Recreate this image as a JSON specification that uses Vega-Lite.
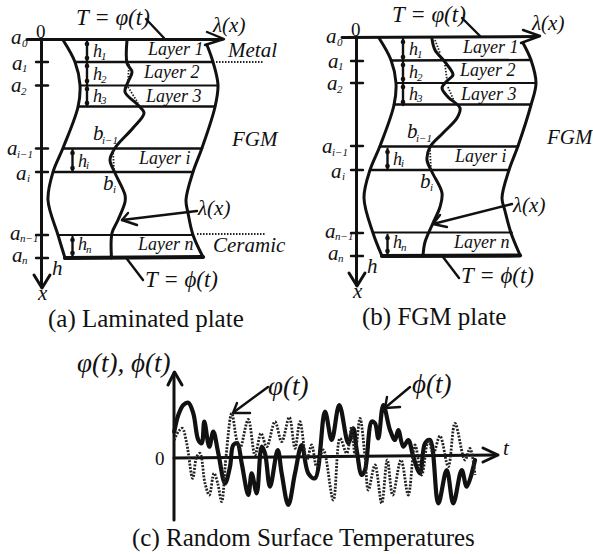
{"$schema":"https://vega.github.io/schema/vega-lite/v6.json","width":593,"height":554,"padding":0,"autosize":{"type":"none"},"background":"#ffffff","view":{"stroke":null},
"datasets":{
"straight":[
{"id":"a-axis","w":"bold","i":0,"x":41.5,"y":39},{"id":"a-axis","w":"bold","i":1,"x":41.5,"y":287},
{"id":"a-axh","w":"bold","i":0,"x":34,"y":275},{"id":"a-axh","w":"bold","i":1,"x":42,"y":288},{"id":"a-axh","w":"bold","i":2,"x":50,"y":275},
{"id":"a-top","w":"bold","i":0,"x":27,"y":39.5},{"id":"a-top","w":"bold","i":1,"x":222,"y":39.5},
{"id":"a-toph","w":"mid","i":0,"x":207,"y":32},{"id":"a-toph","w":"mid","i":1,"x":224,"y":39},{"id":"a-toph","w":"mid","i":2,"x":205,"y":45},
{"id":"a-t1","w":"mid","i":0,"x":36,"y":62},{"id":"a-t1","w":"mid","i":1,"x":48,"y":62},
{"id":"a-t2","w":"mid","i":0,"x":36,"y":85.5},{"id":"a-t2","w":"mid","i":1,"x":48,"y":85.5},
{"id":"a-t3","w":"mid","i":0,"x":36,"y":148.5},{"id":"a-t3","w":"mid","i":1,"x":48,"y":148.5},
{"id":"a-t4","w":"mid","i":0,"x":36,"y":172},{"id":"a-t4","w":"mid","i":1,"x":48,"y":172},
{"id":"a-t5","w":"mid","i":0,"x":36,"y":235},{"id":"a-t5","w":"mid","i":1,"x":48,"y":235},
{"id":"a-t6","w":"mid","i":0,"x":36,"y":258},{"id":"a-t6","w":"mid","i":1,"x":48,"y":258},
{"id":"a-l1","w":"mid","i":0,"x":75,"y":62},{"id":"a-l1","w":"mid","i":1,"x":213,"y":62},
{"id":"a-l2","w":"thin","i":0,"x":80,"y":85.5},{"id":"a-l2","w":"thin","i":1,"x":218,"y":85.5},
{"id":"a-l3","w":"mid","i":0,"x":78,"y":106.5},{"id":"a-l3","w":"mid","i":1,"x":215,"y":106.5},
{"id":"a-l4","w":"mid","i":0,"x":63,"y":148.5},{"id":"a-l4","w":"mid","i":1,"x":202,"y":148.5},
{"id":"a-l5","w":"mid","i":0,"x":53,"y":172},{"id":"a-l5","w":"mid","i":1,"x":193,"y":172},
{"id":"a-l6","w":"thin","i":0,"x":58,"y":235},{"id":"a-l6","w":"thin","i":1,"x":193,"y":235},
{"id":"a-l7","w":"heavy","i":0,"x":65,"y":258},{"id":"a-l7","w":"heavy","i":1,"x":203,"y":257},
{"id":"a-h","w":"mid","i":0,"x":87,"y":41},{"id":"a-h","w":"mid","i":1,"x":87,"y":106},
{"id":"a-hi","w":"mid","i":0,"x":72.5,"y":150},{"id":"a-hi","w":"mid","i":1,"x":72.5,"y":171},
{"id":"a-hn","w":"mid","i":0,"x":72.5,"y":237},{"id":"a-hn","w":"mid","i":1,"x":72.5,"y":256},
{"id":"a-le1","w":"mid","i":0,"x":146,"y":19},{"id":"a-le1","w":"mid","i":1,"x":164,"y":38},
{"id":"a-le2","w":"mid","i":0,"x":127,"y":259},{"id":"a-le2","w":"mid","i":1,"x":143,"y":280},
{"id":"a-ar","w":"mid","i":0,"x":197,"y":211},{"id":"a-ar","w":"mid","i":1,"x":122,"y":220},
{"id":"a-arh","w":"mid","i":0,"x":128,"y":213},{"id":"a-arh","w":"mid","i":1,"x":122,"y":220},{"id":"a-arh","w":"mid","i":2,"x":137,"y":225},

{"id":"b-axis","w":"bold","i":0,"x":356.5,"y":37},{"id":"b-axis","w":"bold","i":1,"x":356.5,"y":285},
{"id":"b-axh","w":"bold","i":0,"x":349,"y":273},{"id":"b-axh","w":"bold","i":1,"x":357,"y":286},{"id":"b-axh","w":"bold","i":2,"x":365,"y":273},
{"id":"b-top","w":"bold","i":0,"x":342,"y":37.5},{"id":"b-top","w":"bold","i":1,"x":538,"y":36.5},
{"id":"b-toph","w":"mid","i":0,"x":523,"y":30},{"id":"b-toph","w":"mid","i":1,"x":540,"y":36},{"id":"b-toph","w":"mid","i":2,"x":521,"y":43},
{"id":"b-t1","w":"mid","i":0,"x":351,"y":61},{"id":"b-t1","w":"mid","i":1,"x":363,"y":61},
{"id":"b-t2","w":"mid","i":0,"x":351,"y":83},{"id":"b-t2","w":"mid","i":1,"x":363,"y":83},
{"id":"b-t3","w":"mid","i":0,"x":351,"y":146},{"id":"b-t3","w":"mid","i":1,"x":363,"y":146},
{"id":"b-t4","w":"mid","i":0,"x":351,"y":170},{"id":"b-t4","w":"mid","i":1,"x":363,"y":170},
{"id":"b-t5","w":"mid","i":0,"x":351,"y":233},{"id":"b-t5","w":"mid","i":1,"x":363,"y":233},
{"id":"b-t6","w":"mid","i":0,"x":351,"y":256},{"id":"b-t6","w":"mid","i":1,"x":363,"y":256},
{"id":"b-l1","w":"mid","i":0,"x":391,"y":60.5},{"id":"b-l1","w":"mid","i":1,"x":531,"y":60},
{"id":"b-l2","w":"thin","i":0,"x":396,"y":83},{"id":"b-l2","w":"thin","i":1,"x":535,"y":83},
{"id":"b-l3","w":"mid","i":0,"x":394,"y":104.5},{"id":"b-l3","w":"mid","i":1,"x":531,"y":104.5},
{"id":"b-l4","w":"mid","i":0,"x":380,"y":146.5},{"id":"b-l4","w":"mid","i":1,"x":518,"y":146.5},
{"id":"b-l5","w":"mid","i":0,"x":370,"y":170},{"id":"b-l5","w":"mid","i":1,"x":509,"y":170},
{"id":"b-l6","w":"thin","i":0,"x":374,"y":232.5},{"id":"b-l6","w":"thin","i":1,"x":512,"y":232.5},
{"id":"b-l7","w":"heavy","i":0,"x":382,"y":256},{"id":"b-l7","w":"heavy","i":1,"x":520,"y":255.5},
{"id":"b-h","w":"mid","i":0,"x":403,"y":39},{"id":"b-h","w":"mid","i":1,"x":403,"y":105},
{"id":"b-hi","w":"mid","i":0,"x":387.5,"y":149},{"id":"b-hi","w":"mid","i":1,"x":387.5,"y":169},
{"id":"b-hn","w":"mid","i":0,"x":387.5,"y":235},{"id":"b-hn","w":"mid","i":1,"x":387.5,"y":254},
{"id":"b-le1","w":"mid","i":0,"x":462,"y":18},{"id":"b-le1","w":"mid","i":1,"x":480,"y":36},
{"id":"b-le2","w":"mid","i":0,"x":443,"y":257},{"id":"b-le2","w":"mid","i":1,"x":459,"y":278},
{"id":"b-ar","w":"mid","i":0,"x":512,"y":204},{"id":"b-ar","w":"mid","i":1,"x":433,"y":224},
{"id":"b-arh","w":"mid","i":0,"x":440,"y":215},{"id":"b-arh","w":"mid","i":1,"x":433,"y":224},{"id":"b-arh","w":"mid","i":2,"x":447,"y":227},

{"id":"c-v","w":"bold","i":0,"x":174,"y":520},{"id":"c-v","w":"bold","i":1,"x":174,"y":373},
{"id":"c-vh","w":"bold","i":0,"x":168,"y":385},{"id":"c-vh","w":"bold","i":1,"x":174.5,"y":372},{"id":"c-vh","w":"bold","i":2,"x":182,"y":385},
{"id":"c-h","w":"bold","i":0,"x":174,"y":458},{"id":"c-h","w":"bold","i":1,"x":497,"y":455},
{"id":"c-hh","w":"bold","i":0,"x":483,"y":448},{"id":"c-hh","w":"bold","i":1,"x":498,"y":455},{"id":"c-hh","w":"bold","i":2,"x":483,"y":462},
{"id":"c-a1","w":"mid","i":0,"x":268,"y":387},{"id":"c-a1","w":"mid","i":1,"x":234,"y":412},
{"id":"c-a1h","w":"mid","i":0,"x":237,"y":403},{"id":"c-a1h","w":"mid","i":1,"x":233,"y":413},{"id":"c-a1h","w":"mid","i":2,"x":250,"y":413},
{"id":"c-a2","w":"mid","i":0,"x":410,"y":387},{"id":"c-a2","w":"mid","i":1,"x":386,"y":407},
{"id":"c-a2h","w":"mid","i":0,"x":387,"y":397},{"id":"c-a2h","w":"mid","i":1,"x":385,"y":408},{"id":"c-a2h","w":"mid","i":2,"x":400,"y":407}
],
"curved":[
{"id":"a-left","w":"bold","i":0,"x":63,"y":40},{"id":"a-left","w":"bold","i":1,"x":75,"y":62},{"id":"a-left","w":"bold","i":2,"x":80,"y":85},{"id":"a-left","w":"bold","i":3,"x":78,"y":107},{"id":"a-left","w":"bold","i":4,"x":63,"y":148},{"id":"a-left","w":"bold","i":5,"x":53,"y":172},{"id":"a-left","w":"bold","i":6,"x":48,"y":200},{"id":"a-left","w":"bold","i":7,"x":58,"y":235},{"id":"a-left","w":"bold","i":8,"x":65,"y":258},
{"id":"a-right","w":"bold","i":0,"x":207,"y":45},{"id":"a-right","w":"bold","i":1,"x":213,"y":62},{"id":"a-right","w":"bold","i":2,"x":218,"y":85},{"id":"a-right","w":"bold","i":3,"x":215,"y":107},{"id":"a-right","w":"bold","i":4,"x":202,"y":148},{"id":"a-right","w":"bold","i":5,"x":193,"y":172},{"id":"a-right","w":"bold","i":6,"x":186,"y":200},{"id":"a-right","w":"bold","i":7,"x":188,"y":213},{"id":"a-right","w":"bold","i":8,"x":193,"y":235},{"id":"a-right","w":"bold","i":9,"x":203,"y":257},
{"id":"a-mid","w":"bold","i":0,"x":127,"y":40},{"id":"a-mid","w":"bold","i":1,"x":127,"y":63},{"id":"a-mid","w":"bold","i":2,"x":132,"y":72},{"id":"a-mid","w":"bold","i":3,"x":128,"y":82},{"id":"a-mid","w":"bold","i":4,"x":125,"y":92},{"id":"a-mid","w":"bold","i":5,"x":138,"y":105},{"id":"a-mid","w":"bold","i":6,"x":144,"y":113},{"id":"a-mid","w":"bold","i":7,"x":133,"y":128},{"id":"a-mid","w":"bold","i":8,"x":115,"y":148},{"id":"a-mid","w":"bold","i":9,"x":110,"y":160},{"id":"a-mid","w":"bold","i":10,"x":115,"y":173},{"id":"a-mid","w":"bold","i":11,"x":125,"y":195},{"id":"a-mid","w":"bold","i":12,"x":125,"y":202},{"id":"a-mid","w":"bold","i":13,"x":118,"y":220},{"id":"a-mid","w":"bold","i":14,"x":112,"y":233},{"id":"a-mid","w":"bold","i":15,"x":111.5,"y":258},
{"id":"b-left","w":"bold","i":0,"x":379,"y":38},{"id":"b-left","w":"bold","i":1,"x":391,"y":60},{"id":"b-left","w":"bold","i":2,"x":396,"y":83},{"id":"b-left","w":"bold","i":3,"x":394,"y":105},{"id":"b-left","w":"bold","i":4,"x":380,"y":146},{"id":"b-left","w":"bold","i":5,"x":370,"y":170},{"id":"b-left","w":"bold","i":6,"x":364,"y":198},{"id":"b-left","w":"bold","i":7,"x":373,"y":233},{"id":"b-left","w":"bold","i":8,"x":382,"y":256},
{"id":"b-right","w":"bold","i":0,"x":523,"y":43},{"id":"b-right","w":"bold","i":1,"x":531,"y":60},{"id":"b-right","w":"bold","i":2,"x":536,"y":83},{"id":"b-right","w":"bold","i":3,"x":531,"y":105},{"id":"b-right","w":"bold","i":4,"x":518,"y":146},{"id":"b-right","w":"bold","i":5,"x":509,"y":170},{"id":"b-right","w":"bold","i":6,"x":502,"y":198},{"id":"b-right","w":"bold","i":7,"x":505,"y":211},{"id":"b-right","w":"bold","i":8,"x":511,"y":233},{"id":"b-right","w":"bold","i":9,"x":520,"y":255},
{"id":"b-mid","w":"bold","i":0,"x":432,"y":39},{"id":"b-mid","w":"bold","i":1,"x":435,"y":50},{"id":"b-mid","w":"bold","i":2,"x":445,"y":62},{"id":"b-mid","w":"bold","i":3,"x":453,"y":75},{"id":"b-mid","w":"bold","i":4,"x":448,"y":80},{"id":"b-mid","w":"bold","i":5,"x":442,"y":88},{"id":"b-mid","w":"bold","i":6,"x":448,"y":97},{"id":"b-mid","w":"bold","i":7,"x":460,"y":108},{"id":"b-mid","w":"bold","i":8,"x":457,"y":118},{"id":"b-mid","w":"bold","i":9,"x":443,"y":133},{"id":"b-mid","w":"bold","i":10,"x":430,"y":147},{"id":"b-mid","w":"bold","i":11,"x":427,"y":160},{"id":"b-mid","w":"bold","i":12,"x":432,"y":172},{"id":"b-mid","w":"bold","i":13,"x":442,"y":193},{"id":"b-mid","w":"bold","i":14,"x":440,"y":207},{"id":"b-mid","w":"bold","i":15,"x":433,"y":223},{"id":"b-mid","w":"bold","i":16,"x":425,"y":242},{"id":"b-mid","w":"bold","i":17,"x":423,"y":256},
{"id":"solid","w":"heavy","i":0,"x":174.3,"y":431.7},{"id":"solid","w":"heavy","i":1,"x":178.3,"y":415},{"id":"solid","w":"heavy","i":2,"x":183.3,"y":405},{"id":"solid","w":"heavy","i":3,"x":188.3,"y":402.7},{"id":"solid","w":"heavy","i":4,"x":193.3,"y":413.3},{"id":"solid","w":"heavy","i":5,"x":198.3,"y":440},{"id":"solid","w":"heavy","i":6,"x":201.7,"y":443.3},{"id":"solid","w":"heavy","i":7,"x":204.3,"y":421.7},{"id":"solid","w":"heavy","i":8,"x":209.3,"y":446.7},{"id":"solid","w":"heavy","i":9,"x":213.3,"y":431.7},{"id":"solid","w":"heavy","i":10,"x":218.3,"y":453.3},{"id":"solid","w":"heavy","i":11,"x":225,"y":483.3},{"id":"solid","w":"heavy","i":12,"x":230,"y":466.7},{"id":"solid","w":"heavy","i":13,"x":233.3,"y":445},{"id":"solid","w":"heavy","i":14,"x":237.3,"y":443.3},{"id":"solid","w":"heavy","i":15,"x":241.7,"y":463.3},{"id":"solid","w":"heavy","i":16,"x":248.3,"y":495},{"id":"solid","w":"heavy","i":17,"x":251.7,"y":473.3},{"id":"solid","w":"heavy","i":18,"x":256.7,"y":493.3},{"id":"solid","w":"heavy","i":19,"x":261.7,"y":446.7},{"id":"solid","w":"heavy","i":20,"x":265,"y":453.3},{"id":"solid","w":"heavy","i":21,"x":270,"y":486.7},{"id":"solid","w":"heavy","i":22,"x":277.7,"y":450},{"id":"solid","w":"heavy","i":23,"x":281.7,"y":473.3},{"id":"solid","w":"heavy","i":24,"x":288.3,"y":505},{"id":"solid","w":"heavy","i":25,"x":295,"y":473.3},{"id":"solid","w":"heavy","i":26,"x":301.7,"y":445},{"id":"solid","w":"heavy","i":27,"x":308.3,"y":473.3},{"id":"solid","w":"heavy","i":28,"x":315,"y":478.3},{"id":"solid","w":"heavy","i":29,"x":325,"y":411.7},{"id":"solid","w":"heavy","i":30,"x":331.7,"y":440},{"id":"solid","w":"heavy","i":31,"x":339.3,"y":405},{"id":"solid","w":"heavy","i":32,"x":348.3,"y":443.3},{"id":"solid","w":"heavy","i":33,"x":353.3,"y":428.3},{"id":"solid","w":"heavy","i":34,"x":356.7,"y":450},{"id":"solid","w":"heavy","i":35,"x":361.7,"y":475},{"id":"solid","w":"heavy","i":36,"x":365,"y":470},{"id":"solid","w":"heavy","i":37,"x":371.7,"y":421.7},{"id":"solid","w":"heavy","i":38,"x":375,"y":423.3},{"id":"solid","w":"heavy","i":39,"x":378.3,"y":438.3},{"id":"solid","w":"heavy","i":40,"x":383.3,"y":405},{"id":"solid","w":"heavy","i":41,"x":390,"y":430},{"id":"solid","w":"heavy","i":42,"x":395,"y":440},{"id":"solid","w":"heavy","i":43,"x":398.3,"y":430},{"id":"solid","w":"heavy","i":44,"x":403.3,"y":446.7},{"id":"solid","w":"heavy","i":45,"x":408.3,"y":440},{"id":"solid","w":"heavy","i":46,"x":413.3,"y":456.7},{"id":"solid","w":"heavy","i":47,"x":420,"y":473.3},{"id":"solid","w":"heavy","i":48,"x":425,"y":443.3},{"id":"solid","w":"heavy","i":49,"x":430,"y":440},{"id":"solid","w":"heavy","i":50,"x":438.3,"y":503.3},{"id":"solid","w":"heavy","i":51,"x":446.7,"y":470},{"id":"solid","w":"heavy","i":52,"x":453.3,"y":503.3},{"id":"solid","w":"heavy","i":53,"x":461.7,"y":470},{"id":"solid","w":"heavy","i":54,"x":466.7,"y":486.7},{"id":"solid","w":"heavy","i":55,"x":475,"y":460}
],
"dotted":[
{"id":"a-d1","i":0,"x":216,"y":62},{"id":"a-d1","i":1,"x":263,"y":62},
{"id":"a-d2","i":0,"x":197,"y":234},{"id":"a-d2","i":1,"x":266,"y":234},
{"id":"a-d3","i":0,"x":129,"y":64},{"id":"a-d3","i":1,"x":128,"y":82},
{"id":"a-d4","i":0,"x":128,"y":87},{"id":"a-d4","i":1,"x":138,"y":103},
{"id":"a-d5","i":0,"x":113,"y":150},{"id":"a-d5","i":1,"x":114,"y":171},
{"id":"b-d1","i":0,"x":435,"y":40},{"id":"b-d1","i":1,"x":440,"y":53},
{"id":"b-d2","i":0,"x":445,"y":65},{"id":"b-d2","i":1,"x":447,"y":80},
{"id":"b-d3","i":0,"x":448,"y":87},{"id":"b-d3","i":1,"x":455,"y":103},
{"id":"b-d4","i":0,"x":430,"y":150},{"id":"b-d4","i":1,"x":431,"y":170}
],
"wave":[
{"i":0,"x":174.3,"y":440},{"i":1,"x":178.3,"y":431.7},{"i":2,"x":182.3,"y":428.3},{"i":3,"x":186.7,"y":443.3},{"i":4,"x":192.7,"y":478.3},{"i":5,"x":196.7,"y":456.7},{"i":6,"x":200,"y":453.3},{"i":7,"x":205,"y":483.3},{"i":8,"x":209.3,"y":495},{"i":9,"x":214,"y":473.3},{"i":10,"x":217.7,"y":483.3},{"i":11,"x":221.7,"y":501.7},{"i":12,"x":226,"y":456.7},{"i":13,"x":231.7,"y":413.3},{"i":14,"x":236.7,"y":440},{"i":15,"x":240,"y":448.3},{"i":16,"x":248.3,"y":419.3},{"i":17,"x":255,"y":455},{"i":18,"x":261,"y":433.3},{"i":19,"x":266.7,"y":446.7},{"i":20,"x":275,"y":421.7},{"i":21,"x":281.7,"y":441.7},{"i":22,"x":289.3,"y":417.3},{"i":23,"x":295,"y":448.3},{"i":24,"x":300,"y":421.7},{"i":25,"x":306.7,"y":460},{"i":26,"x":311.7,"y":445},{"i":27,"x":316.7,"y":466.7},{"i":28,"x":323.3,"y":450},{"i":29,"x":333.3,"y":500},{"i":30,"x":340,"y":438.3},{"i":31,"x":346.7,"y":453.3},{"i":32,"x":351.7,"y":426.7},{"i":33,"x":355,"y":455},{"i":34,"x":360,"y":418.3},{"i":35,"x":365,"y":456.7},{"i":36,"x":368.3,"y":490},{"i":37,"x":375,"y":465},{"i":38,"x":381.7,"y":503.3},{"i":39,"x":387.3,"y":460},{"i":40,"x":392.7,"y":495},{"i":41,"x":401,"y":460},{"i":42,"x":408.3,"y":495},{"i":43,"x":415,"y":445},{"i":44,"x":421.7,"y":475},{"i":45,"x":428.3,"y":440},{"i":46,"x":433.3,"y":453.3},{"i":47,"x":440,"y":436},{"i":48,"x":448.3,"y":466.7},{"i":49,"x":455,"y":423.3},{"i":50,"x":465,"y":460},{"i":51,"x":470,"y":448.3},{"i":52,"x":475,"y":475}
],
"dots":[
{"x":87,"y":44},{"x":87,"y":58},{"x":87,"y":66},{"x":87,"y":81},{"x":87,"y":89},{"x":87,"y":103},{"x":72.5,"y":153},{"x":72.5,"y":168},{"x":72.5,"y":240},{"x":72.5,"y":253},
{"x":403,"y":42},{"x":403,"y":57},{"x":403,"y":65},{"x":403,"y":79},{"x":403,"y":87},{"x":403,"y":102},{"x":387.5,"y":152},{"x":387.5,"y":166},{"x":387.5,"y":238},{"x":387.5,"y":251}
],
"labels":[
{"t":"T = φ(t)","s":"big","x":76,"y":25},{"t":"λ(x)","s":"mat","x":213,"y":32},{"t":"Metal","s":"mat","x":228,"y":57},{"t":"FGM","s":"mat","x":232,"y":146},{"t":"Layer 1","s":"mid","x":148,"y":55},{"t":"Layer 2","s":"mid","x":144,"y":78},{"t":"Layer 3","s":"mid","x":146,"y":102},{"t":"Layer i","s":"mid","x":139,"y":164},{"t":"Layer n","s":"mid","x":138,"y":250},{"t":"λ(x)","s":"mat","x":198,"y":215},{"t":"Ceramic","s":"mat","x":213,"y":252},{"t":"T = ϕ(t)","s":"big","x":145,"y":287},
{"t":"a","s":"mat","x":11,"y":44},{"t":"0","s":"sub","x":22,"y":47},{"t":"a","s":"mat","x":12,"y":70},{"t":"1","s":"sub","x":22,"y":72},{"t":"a","s":"mat","x":11,"y":92},{"t":"2","s":"sub","x":21,"y":95},{"t":"a","s":"mat","x":7,"y":155},{"t":"i−1","s":"sub","x":17,"y":158},{"t":"a","s":"mat","x":16,"y":180},{"t":"i","s":"sub","x":27,"y":182},{"t":"a","s":"mat","x":10,"y":240},{"t":"n−1","s":"sub","x":20,"y":242},{"t":"a","s":"mat","x":12,"y":262},{"t":"n","s":"sub","x":22,"y":264},
{"t":"h","s":"mid","x":93,"y":57},{"t":"1","s":"sub","x":101,"y":60},{"t":"h","s":"mid","x":93,"y":80},{"t":"2","s":"sub","x":101,"y":83},{"t":"h","s":"mid","x":93,"y":102},{"t":"3","s":"sub","x":101,"y":104},{"t":"h","s":"mid","x":78,"y":167},{"t":"i","s":"sub","x":86,"y":169},{"t":"h","s":"mid","x":78,"y":250},{"t":"n","s":"sub","x":86,"y":253},{"t":"h","s":"mat","x":52,"y":275},{"t":"x","s":"mat","x":38,"y":300},{"t":"b","s":"mat","x":93,"y":140},{"t":"i−1","s":"sub","x":102,"y":144},{"t":"b","s":"mat","x":103,"y":190},{"t":"i","s":"sub","x":113,"y":193},
{"t":"T = φ(t)","s":"big","x":392,"y":22},{"t":"λ(x)","s":"mat","x":532,"y":30},{"t":"FGM","s":"mat","x":547,"y":144},{"t":"Layer 1","s":"mid","x":463,"y":53},{"t":"Layer 2","s":"mid","x":460,"y":76},{"t":"Layer 3","s":"mid","x":461,"y":100},{"t":"Layer i","s":"mid","x":455,"y":162},{"t":"Layer n","s":"mid","x":454,"y":248},{"t":"λ(x)","s":"mat","x":513,"y":212},{"t":"T = ϕ(t)","s":"big","x":461,"y":283},
{"t":"a","s":"mat","x":326,"y":43},{"t":"0","s":"sub","x":337,"y":46},{"t":"a","s":"mat","x":328,"y":68},{"t":"1","s":"sub","x":338,"y":70},{"t":"a","s":"mat","x":327,"y":90},{"t":"2","s":"sub","x":337,"y":93},{"t":"a","s":"mat","x":322,"y":153},{"t":"i−1","s":"sub","x":332,"y":156},{"t":"a","s":"mat","x":331,"y":178},{"t":"i","s":"sub","x":342,"y":180},{"t":"a","s":"mat","x":325,"y":238},{"t":"n−1","s":"sub","x":335,"y":240},{"t":"a","s":"mat","x":328,"y":260},{"t":"n","s":"sub","x":338,"y":262},
{"t":"h","s":"mid","x":409,"y":55},{"t":"1","s":"sub","x":417,"y":58},{"t":"h","s":"mid","x":409,"y":78},{"t":"2","s":"sub","x":417,"y":81},{"t":"h","s":"mid","x":409,"y":100},{"t":"3","s":"sub","x":417,"y":102},{"t":"h","s":"mid","x":393,"y":165},{"t":"i","s":"sub","x":401,"y":167},{"t":"h","s":"mid","x":393,"y":248},{"t":"n","s":"sub","x":401,"y":251},{"t":"h","s":"mat","x":367,"y":273},{"t":"x","s":"mat","x":353,"y":298},{"t":"b","s":"mat","x":407,"y":138},{"t":"i−1","s":"sub","x":416,"y":142},{"t":"b","s":"mat","x":420,"y":188},{"t":"i","s":"sub","x":430,"y":191},
{"t":"φ(t), ϕ(t)","s":"phi","x":77,"y":372},{"t":"φ(t)","s":"phi","x":268,"y":395},{"t":"ϕ(t)","s":"phi","x":412,"y":393},{"t":"t","s":"mat","x":503,"y":455}
],
"captions":[
{"t":"(a) Laminated plate","x":48,"y":327},{"t":"(b) FGM plate","x":362,"y":325},{"t":"(c) Random Surface Temperatures","x":132,"y":546}
],
"zeros":[
{"t":"0","x":155,"y":465},{"t":"0","x":36,"y":38},{"t":"0","x":351,"y":36}
]
},
"layer":[
{"data":{"name":"straight"},"mark":{"type":"line","color":"#111111","strokeCap":"round","strokeJoin":"round"},"encoding":{"x":{"field":"x","type":"quantitative","scale":{"domain":[0,593],"nice":false},"axis":null},"y":{"field":"y","type":"quantitative","scale":{"domain":[554,0],"nice":false},"axis":null},"detail":{"field":"id"},"order":{"field":"i"},"strokeWidth":{"field":"w","type":"ordinal","scale":{"type":"ordinal","domain":["thin","mid","bold","heavy"],"range":[1.8,2.4,3,4.2]},"legend":null}}},
{"data":{"name":"curved"},"mark":{"type":"line","color":"#111111","interpolate":"catmull-rom","strokeCap":"round","strokeJoin":"round"},"encoding":{"x":{"field":"x","type":"quantitative","axis":null},"y":{"field":"y","type":"quantitative","axis":null},"detail":{"field":"id"},"order":{"field":"i"},"strokeWidth":{"field":"w","type":"ordinal","scale":{"type":"ordinal","domain":["thin","mid","bold","heavy"],"range":[1.8,2.4,3,4.2]},"legend":null}}},
{"data":{"name":"dotted"},"mark":{"type":"line","color":"#222222","strokeWidth":1.8,"strokeDash":[1.5,1.5]},"encoding":{"x":{"field":"x","type":"quantitative","axis":null},"y":{"field":"y","type":"quantitative","axis":null},"detail":{"field":"id"},"order":{"field":"i"}}},
{"data":{"name":"wave"},"mark":{"type":"line","color":"#222222","strokeWidth":2.8,"strokeDash":[2,1.4],"interpolate":"catmull-rom"},"encoding":{"x":{"field":"x","type":"quantitative","axis":null},"y":{"field":"y","type":"quantitative","axis":null},"order":{"field":"i"}}},
{"data":{"name":"dots"},"mark":{"type":"point","filled":true,"color":"#111111","size":22,"opacity":1},"encoding":{"x":{"field":"x","type":"quantitative","axis":null},"y":{"field":"y","type":"quantitative","axis":null}}},
{"data":{"name":"labels"},"mark":{"type":"text","font":"Liberation Serif","fontStyle":"italic","align":"left","baseline":"alphabetic","color":"#111111"},"encoding":{"x":{"field":"x","type":"quantitative","axis":null},"y":{"field":"y","type":"quantitative","axis":null},"text":{"field":"t"},"size":{"field":"s","type":"ordinal","scale":{"type":"ordinal","domain":["sub","mid","mat","big","phi"],"range":[11,18,21,23,27]},"legend":null}}},
{"data":{"name":"captions"},"mark":{"type":"text","font":"Liberation Serif","fontSize":25,"align":"left","baseline":"alphabetic","color":"#111111"},"encoding":{"x":{"field":"x","type":"quantitative","axis":null},"y":{"field":"y","type":"quantitative","axis":null},"text":{"field":"t"}}},
{"data":{"name":"zeros"},"mark":{"type":"text","font":"Liberation Serif","fontSize":19,"align":"left","baseline":"alphabetic","color":"#111111"},"encoding":{"x":{"field":"x","type":"quantitative","axis":null},"y":{"field":"y","type":"quantitative","axis":null},"text":{"field":"t"}}}
],
"resolve":{"scale":{"x":"shared","y":"shared"}}}
